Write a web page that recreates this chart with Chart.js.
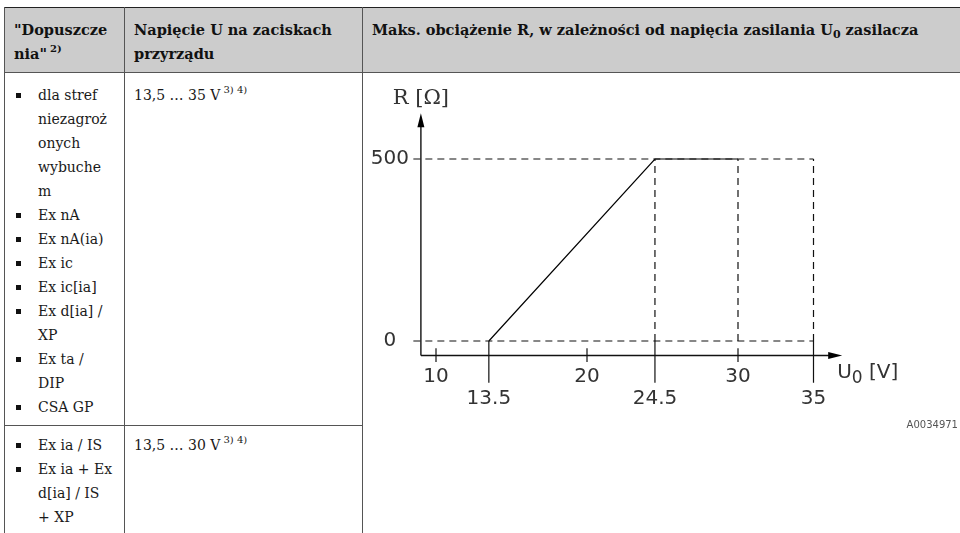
<!DOCTYPE html>
<html>
<head>
<meta charset="utf-8">
<script src="https://cdn.jsdelivr.net/npm/chart.js@4.4.1/dist/chart.umd.min.js"></script>
<style>
body { margin:0; width:960px; height:533px; overflow:hidden; background:#fff; position:relative; font-family:"DejaVu Serif", serif; color:#1a1a1a; }
.hdr { position:absolute; left:4px; top:7px; width:956px; height:64px; background:#cccccc; border-top:1px solid #222; border-bottom:1px solid #555; }
.vl { position:absolute; top:7px; bottom:0; width:1px; background:#555; }
.hl { position:absolute; height:1px; background:#555; }
.h { position:absolute; top:18px; font-weight:bold; font-size:14.5px; line-height:24px; white-space:nowrap; color:#111; }
.c { position:absolute; font-size:14px; line-height:24px; white-space:nowrap; }
ul { list-style:none; margin:0; padding:0; }
li { position:relative; }
li::before { content:""; position:absolute; left:-22px; top:10px; width:5px; height:5px; background:#111; }
.sup { position:relative; top:-7px; font-size:10px; margin-left:3px; line-height:0; }
.sub { position:relative; top:3px; font-size:11px; line-height:0; }
#wrap { position:absolute; left:363px; top:73px; width:597px; height:352px; }
#code { position:absolute; right:2px; top:419px; font-family:"DejaVu Sans",sans-serif; font-size:10px; color:#555; }
</style>
</head>
<body>
<div class="hdr"></div>
<div class="vl" style="left:4px"></div>
<div class="vl" style="left:124px"></div>
<div class="vl" style="left:362px"></div>
<div class="hl" style="left:4px; width:358px; top:425px"></div>

<div class="h" style="left:14px">"Dopuszcze<br>nia"<span class="sup">2)</span></div>
<div class="h" style="left:134px">Napięcie U na zaciskach<br>przyrządu</div>
<div class="h" style="left:372px">Maks. obciążenie R, w zależności od napięcia zasilania U<span class="sub">0</span> zasilacza</div>

<div class="c" style="left:38px; top:83px">
<ul>
<li>dla stref<br>niezagroż<br>onych<br>wybuche<br>m</li>
<li>Ex nA</li>
<li>Ex nA(ia)</li>
<li>Ex ic</li>
<li>Ex ic[ia]</li>
<li>Ex d[ia] /<br>XP</li>
<li>Ex ta /<br>DIP</li>
<li>CSA GP</li>
</ul>
</div>
<div class="c" style="left:134px; top:83px">13,5 … 35 V<span class="sup">3) 4)</span></div>

<div class="c" style="left:38px; top:433px">
<ul>
<li>Ex ia / IS</li>
<li>Ex ia + Ex<br>d[ia] / IS<br>+ XP</li>
</ul>
</div>
<div class="c" style="left:134px; top:433px">13,5 … 30 V<span class="sup">3) 4)</span></div>

<div id="wrap"><canvas id="chart" width="597" height="352"></canvas></div>
<div id="code">A0034971</div>

<script>
// max load R [Ω] over supply voltage U0 [V]
const uSupply = [13.5, 24.5, 30];
const rLoad = [0, 500, 500];
// dashed guide levels
const rLevels = [0, 500];
const uLimits = [24.5, 30, 35];
// axis tick labels
const uTicksMajor = [10, 20, 30];
const uTicksMarked = [13.5, 24.5, 35];
const rTicks = [0, 500];

// where the drawn axes sit / end (value space)
const axisU = 9, axisR = -40, uAxisEnd = 36.9, rAxisEnd = 626;

const seg = (x1, y1, x2, y2, dash, width) => ({
    data: [{x: x1, y: y1}, {x: x2, y: y2}],
    borderColor: '#111',
    borderWidth: width || 1.2,
    borderDash: dash ? [7, 5] : [],
    pointRadius: 0,
    showLine: true,
    clip: false
});

const datasets = [];
// guides
rLevels.forEach(r => datasets.push(seg(8.5, r, uLimits[uLimits.length - 1], r, true)));
uLimits.forEach(u => datasets.push(seg(u, rLevels[0], u, rLevels[1], true)));
// ticks on the U axis
uTicksMajor.forEach(u => datasets.push(seg(u, -20, u, -58)));
uTicksMarked.forEach(u => datasets.push(seg(u, 0, u, -115)));
// axes
datasets.push(seg(axisU, axisR, uAxisEnd - 0.5, axisR, false, 1.4));
datasets.push(seg(axisU, axisR, axisU, rAxisEnd - 20, false, 1.4));
// the load curve
datasets.push({
    data: uSupply.map((u, i) => ({x: u, y: rLoad[i]})),
    borderColor: '#000',
    borderWidth: 1.2,
    pointRadius: 0,
    showLine: true,
    clip: false
});

const labelFont = '20px "DejaVu Sans", sans-serif';

const axisDecor = {
    id: 'axisDecor',
    afterDatasetsDraw(chart) {
        const {ctx, scales: {x, y}} = chart;
        const ox = x.getPixelForValue(axisU), oy = y.getPixelForValue(axisR);
        const tipX = x.getPixelForValue(uAxisEnd), tipY = y.getPixelForValue(rAxisEnd);
        ctx.save();
        ctx.fillStyle = '#000';
        ctx.beginPath();
        ctx.moveTo(ox, tipY); ctx.lineTo(ox - 3.5, tipY + 14); ctx.lineTo(ox + 3.5, tipY + 14);
        ctx.closePath(); ctx.fill();
        ctx.beginPath();
        ctx.moveTo(tipX, oy); ctx.lineTo(tipX - 14, oy - 3.5); ctx.lineTo(tipX - 14, oy + 3.5);
        ctx.closePath(); ctx.fill();

        ctx.fillStyle = '#333';
        ctx.font = labelFont;
        ctx.textAlign = 'center';
        ctx.textBaseline = 'middle';
        rTicks.forEach(v => ctx.fillText(String(v), ox - 31, y.getPixelForValue(v)));
        uTicksMajor.forEach(v => ctx.fillText(String(v), x.getPixelForValue(v), oy + 21));
        uTicksMarked.forEach(v => ctx.fillText(String(v), x.getPixelForValue(v), oy + 43));

        ctx.font = '21px "DejaVu Serif", serif';
        ctx.fillText('R [Ω]', ox, tipY - 15);

        // U0 [V]
        ctx.textAlign = 'left';
        let tx = tipX - 5;
        ctx.font = labelFont;
        ctx.fillText('U', tx, oy + 17);
        tx += ctx.measureText('U').width;
        ctx.font = '17px "DejaVu Sans", sans-serif';
        ctx.fillText('0', tx, oy + 23);
        tx += ctx.measureText('0').width;
        ctx.font = labelFont;
        ctx.fillText(' [V]', tx, oy + 17);
        ctx.restore();
    }
};

new Chart(document.getElementById('chart').getContext('2d'), {
    type: 'scatter',
    data: {datasets: datasets},
    options: {
        responsive: false,
        animation: false,
        layout: {padding: {left: 57.9, right: 116.3, top: 38.7, bottom: 36.7}},
        plugins: {legend: {display: false}, tooltip: {enabled: false}},
        scales: {
            x: {type: 'linear', min: 9, max: 37, display: false},
            y: {type: 'linear', min: -130, max: 630, display: false}
        }
    },
    plugins: [axisDecor]
});
</script>
</body>
</html>
